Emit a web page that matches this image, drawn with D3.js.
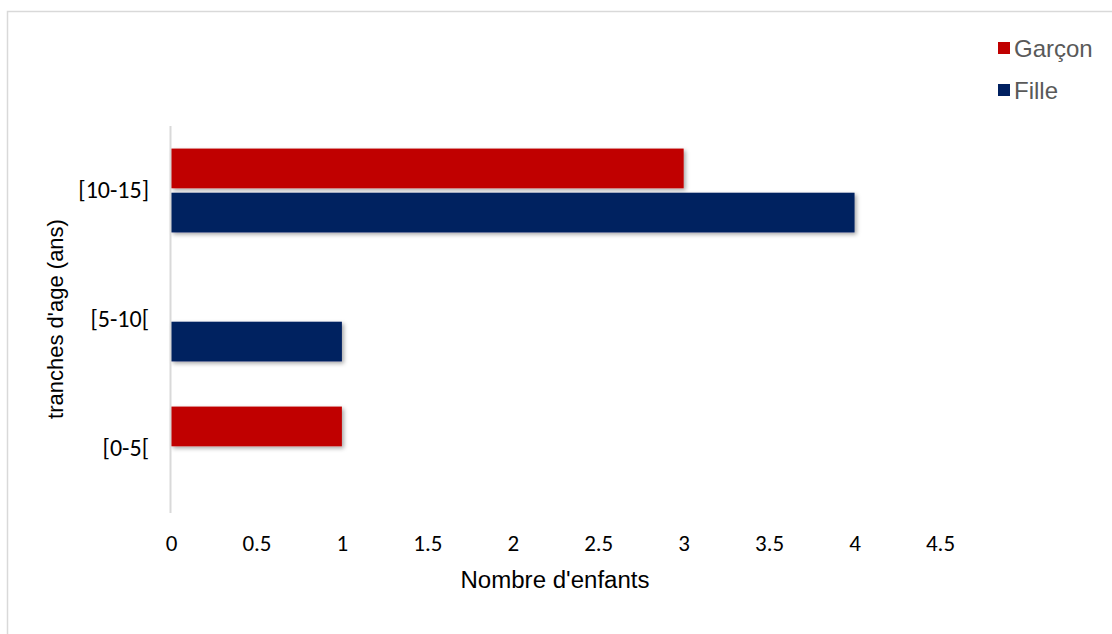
<!DOCTYPE html>
<html>
<head>
<meta charset="utf-8">
<script src="https://cdn.jsdelivr.net/npm/d3@7"></script>
<style>
  body { margin: 0; background: #fff; }
  svg { display: block; }
</style>
</head>
<body>
<svg id="chart"></svg>
<script>
// data
const categories = ["[10-15]", "[5-10[", "[0-5["];
const series = ["Garçon", "Fille"];
const garcon = [3, 0, 1];
const fille = [4, 1, 0];
const xTicks = [0, 0.5, 1, 1.5, 2, 2.5, 3, 3.5, 4, 4.5];

const colors = { "Garçon": "#c00000", "Fille": "#002060" };

const W = 1112, H = 634;
const margin = { top: 126, left: 171, right: 172, bottom: 121 };
const width = 940 - margin.left, height = 513 - margin.top;

const svg = d3.select("#chart").attr("width", W).attr("height", H);

const defs = svg.append("defs");
defs.append("filter")
  .attr("id", "shadow")
  .attr("x", "-5%").attr("y", "-20%").attr("width", "110%").attr("height", "160%")
  .append("feDropShadow")
  .attr("dx", 2).attr("dy", 2).attr("stdDeviation", 2)
  .attr("flood-color", "#000").attr("flood-opacity", 0.35);

// outer frame
svg.append("rect")
  .attr("x", 7.5).attr("y", 11.5)
  .attr("width", W + 10).attr("height", H + 10)
  .attr("fill", "none").attr("stroke", "#d9d9d9").attr("stroke-width", 1.5);

const g = svg.append("g").attr("transform", `translate(${margin.left},${margin.top})`);

const x = d3.scaleLinear().domain([0, 4.5]).range([0, width]);
const y = d3.scaleBand().domain(categories).range([0, height]).paddingInner(0.35).paddingOuter(0.175);
const ySub = d3.scaleBand().domain(series).range([0, y.bandwidth()]).paddingInner(0.1);

const rows = categories.map((c, i) => ({ cat: c, values: [
  { key: "Garçon", v: garcon[i] },
  { key: "Fille", v: fille[i] }
]}));

const groups = g.selectAll(".cat")
  .data(rows)
  .join("g")
  .attr("class", "cat")
  .attr("transform", d => `translate(0,${y(d.cat)})`);

groups.selectAll("rect")
  .data(d => d.values.filter(v => v.v > 0))
  .join("rect")
  .attr("x", x(0))
  .attr("y", d => ySub(d.key))
  .attr("width", d => x(d.v) - x(0))
  .attr("height", ySub.bandwidth())
  .attr("fill", d => colors[d.key])
  .attr("filter", "url(#shadow)");

// y axis line
g.append("line")
  .attr("x1", -0.5).attr("x2", -0.5)
  .attr("y1", 0).attr("y2", height)
  .attr("stroke", "#d9d9d9").attr("stroke-width", 2);

const tickFont = "Carlito, Calibri, 'Liberation Sans Narrow', 'Open Sans', sans-serif";

// x axis
const xAxis = g.append("g")
  .attr("transform", `translate(0,${height})`)
  .call(d3.axisBottom(x).tickValues(xTicks).tickSize(0).tickPadding(22).tickFormat(d3.format("")));
xAxis.select(".domain").remove();
xAxis.selectAll("text")
  .attr("fill", "#000")
  .attr("font-family", tickFont)
  .attr("font-size", 23);

// y axis labels
const yAxis = g.append("g")
  .call(d3.axisLeft(y).tickSize(0).tickPadding(22));
yAxis.select(".domain").remove();
yAxis.selectAll("text")
  .attr("fill", "#000")
  .attr("dy", "0.32em")
  .attr("font-family", tickFont)
  .attr("font-size", 24);

// axis titles
svg.append("text")
  .attr("x", 555).attr("y", 588)
  .attr("text-anchor", "middle")
  .attr("font-family", "'Liberation Sans', Arial, sans-serif")
  .attr("font-size", 23)
  .attr("textLength", 189)
  .attr("lengthAdjust", "spacingAndGlyphs")
  .attr("fill", "#000")
  .text("Nombre d'enfants");

svg.append("text")
  .attr("transform", "translate(63,319) rotate(-90)")
  .attr("text-anchor", "middle")
  .attr("font-family", "'Liberation Sans', Arial, sans-serif")
  .attr("font-size", 22)
  .attr("fill", "#000")
  .text("tranches d'age (ans)");

// legend
const legend = svg.append("g").attr("transform", "translate(998,42)");
const items = legend.selectAll(".item")
  .data(series)
  .join("g")
  .attr("class", "item")
  .attr("transform", (d, i) => `translate(0,${i * 42})`);
items.append("rect")
  .attr("width", 12).attr("height", 12)
  .attr("fill", d => colors[d]);
items.append("text")
  .attr("x", 16).attr("y", 6)
  .attr("dy", "0.36em")
  .attr("font-family", "'Liberation Sans', Arial, sans-serif")
  .attr("font-size", 24)
  .attr("fill", "#595959")
  .text(d => d);
</script>
</body>
</html>
